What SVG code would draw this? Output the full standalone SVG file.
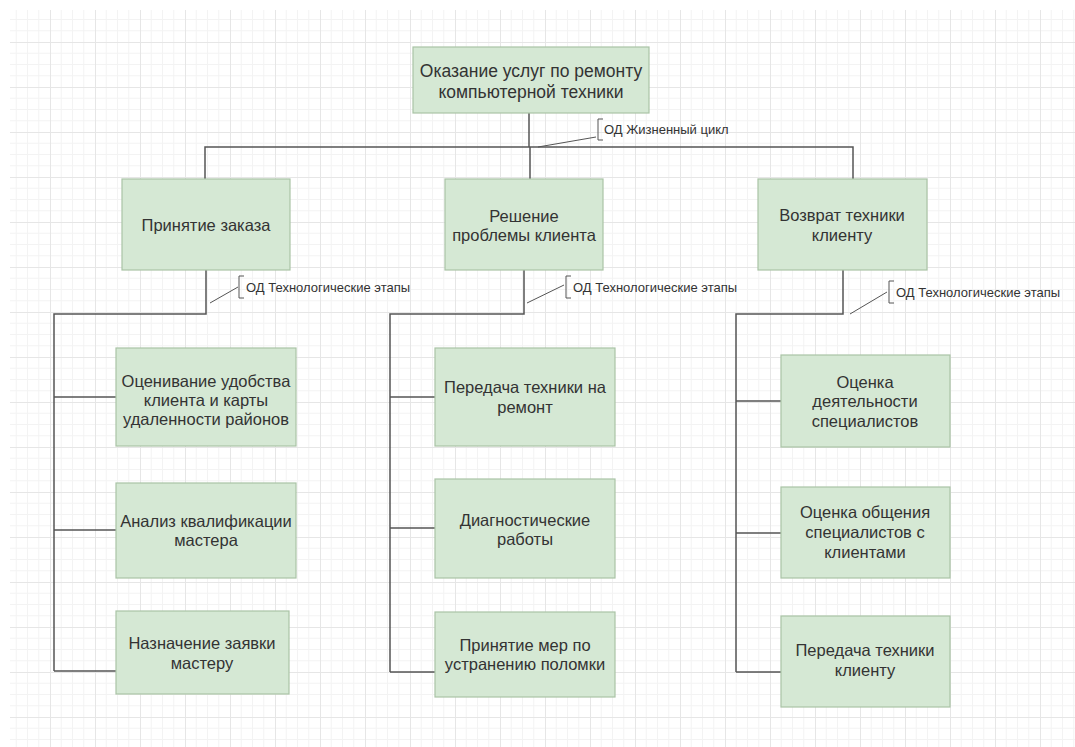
<svg xmlns="http://www.w3.org/2000/svg" width="1075" height="747" viewBox="0 0 1075 747">
<defs>
<pattern id="grid" x="5" y="42" width="45" height="45" patternUnits="userSpaceOnUse">
<path d="M11.25 0V45M22.5 0V45M33.75 0V45M0 11.25H45M0 22.5H45M0 33.75H45" stroke="#f3f3f3" stroke-width="1" fill="none"/>
<path d="M0.5 0V45M0 0.5H45" stroke="#e6e6e6" stroke-width="1" fill="none"/>
</pattern>
<style>
.box{fill:#d5e8d4;stroke:#aac3a6;stroke-width:1.2}
.t{font-family:"Liberation Sans",Arial,sans-serif;font-size:16.5px;fill:#333;text-anchor:middle}
.t1{font-size:17.5px}
.lbl{font-family:"Liberation Sans",Arial,sans-serif;font-size:13px;fill:#333}
.c{fill:none;stroke:#555;stroke-width:1.5}
.b{fill:none;stroke:#555;stroke-width:1}
</style>
</defs>
<rect width="1075" height="747" fill="#fff"/>
<rect x="10" y="10" width="1065" height="737" fill="url(#grid)"/>

<g id="connectors">
<path class="c" d="M529 113V147M205 180V147H853V180M530 147V180"/>
<path class="b" d="M538 147L596 137M603 119H598V140H603"/>
<path class="c" d="M206 270V314H54V671M54 397H116M54 530H116M54 671H116"/>
<path class="b" d="M210 303L238 287M244 276H239V298H244"/>
<path class="c" d="M524 270V314H390V672M390 397H435M390 528H435M390 672H435"/>
<path class="b" d="M527 303L564 285M571 276H566V298H571"/>
<path class="c" d="M843 270V314H736V672M736 401H781M736 533H781M736 672H781"/>
<path class="b" d="M850 314L887 292M894 281H889V303H894"/>
</g>

<g id="n0">
<rect class="box" x="413" y="47" width="236" height="66"/>
<text class="t t1" x="531" y="77">Оказание услуг по ремонту</text>
<text class="t t1" x="531" y="98">компьютерной техники</text>
</g>
<g id="l0"><text class="lbl" x="604" y="134">ОД Жизненный цикл</text></g>

<g id="n1">
<rect class="box" x="122" y="179" width="168" height="91"/>
<text class="t" x="206" y="231">Принятие заказа</text>
</g>
<g id="n2">
<rect class="box" x="445" y="179" width="158" height="91"/>
<text class="t" x="524" y="222">Решение</text>
<text class="t" x="524" y="241">проблемы клиента</text>
</g>
<g id="n3">
<rect class="box" x="758" y="179" width="169" height="91"/>
<text class="t" x="842" y="221">Возврат техники</text>
<text class="t" x="842" y="241">клиенту</text>
</g>
<g id="l1"><text class="lbl" x="246" y="292">ОД Технологические этапы</text></g>
<g id="l2"><text class="lbl" x="573" y="292">ОД Технологические этапы</text></g>
<g id="l3"><text class="lbl" x="896" y="297">ОД Технологические этапы</text></g>

<g id="n11">
<rect class="box" x="116" y="348" width="180" height="98"/>
<text class="t" x="206" y="387">Оценивание удобства</text>
<text class="t" x="206" y="406">клиента и карты</text>
<text class="t" x="206" y="425">удаленности районов</text>
</g>
<g id="n12">
<rect class="box" x="116" y="483" width="180" height="95"/>
<text class="t" x="206" y="527">Анализ квалификации</text>
<text class="t" x="206" y="546">мастера</text>
</g>
<g id="n13">
<rect class="box" x="116" y="611" width="173" height="83"/>
<text class="t" x="202" y="649">Назначение заявки</text>
<text class="t" x="202" y="669">мастеру</text>
</g>

<g id="n21">
<rect class="box" x="435" y="348" width="180" height="98"/>
<text class="t" x="525" y="393">Передача техники на</text>
<text class="t" x="525" y="413">ремонт</text>
</g>
<g id="n22">
<rect class="box" x="435" y="479" width="180" height="99"/>
<text class="t" x="525" y="526">Диагностические</text>
<text class="t" x="525" y="545">работы</text>
</g>
<g id="n23">
<rect class="box" x="435" y="612" width="180" height="85"/>
<text class="t" x="525" y="651">Принятие мер по</text>
<text class="t" x="525" y="670">устранению поломки</text>
</g>

<g id="n31">
<rect class="box" x="781" y="355" width="169" height="92"/>
<text class="t" x="865" y="388">Оценка</text>
<text class="t" x="865" y="407">деятельности</text>
<text class="t" x="865" y="427">специалистов</text>
</g>
<g id="n32">
<rect class="box" x="781" y="487" width="169" height="91"/>
<text class="t" x="865" y="518">Оценка общения</text>
<text class="t" x="865" y="538">специалистов с</text>
<text class="t" x="865" y="558">клиентами</text>
</g>
<g id="n33">
<rect class="box" x="781" y="616" width="169" height="91"/>
<text class="t" x="865" y="656">Передача техники</text>
<text class="t" x="865" y="676">клиенту</text>
</g>
</svg>
